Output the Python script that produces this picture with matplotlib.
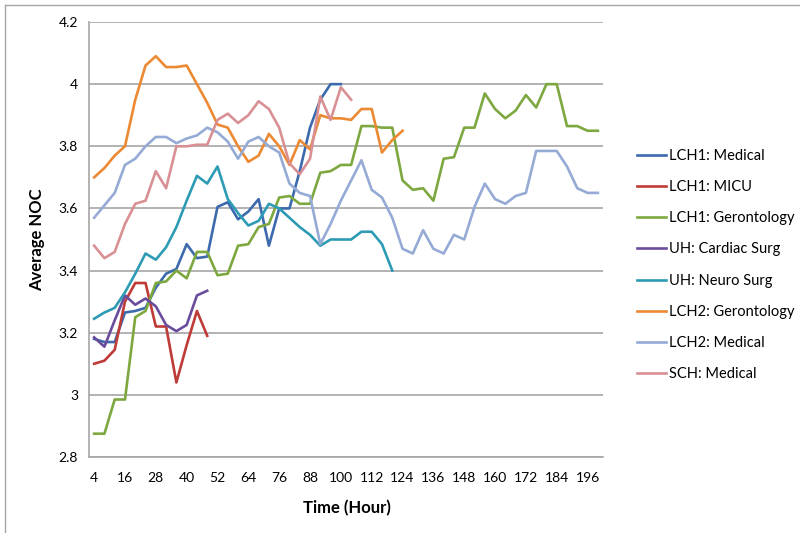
import matplotlib
matplotlib.use("Agg")
import matplotlib.pyplot as plt
from matplotlib.lines import Line2D

plt.rcParams['font.family'] = ['Lato', 'DejaVu Sans']

# sampling hours (every 4 h)
hours = list(range(4, 201, 4))

lch1_medical = [3.18, 3.17, 3.17, 3.265, 3.27, 3.28, 3.345, 3.39, 3.405, 3.485,
                3.44, 3.445, 3.605, 3.62, 3.565, 3.59, 3.63, 3.48, 3.60, 3.60,
                3.72, 3.86, 3.95, 4.0, 4.0]
lch1_micu = [3.10, 3.11, 3.145, 3.30, 3.36, 3.36, 3.22, 3.22, 3.04, 3.16, 3.27, 3.19]
lch1_geront = [2.875, 2.875, 2.985, 2.985, 3.25, 3.27, 3.36, 3.365, 3.40, 3.375,
               3.46, 3.46, 3.385, 3.39, 3.48, 3.485, 3.54, 3.55, 3.635, 3.64,
               3.615, 3.615, 3.715, 3.72, 3.74, 3.74, 3.865, 3.865, 3.86, 3.86,
               3.69, 3.66, 3.665, 3.625, 3.76, 3.765, 3.86, 3.86, 3.97, 3.92,
               3.89, 3.915, 3.965, 3.925, 4.0, 4.0, 3.865, 3.865, 3.85, 3.85]
uh_cardiac = [3.185, 3.155, 3.24, 3.32, 3.29, 3.31, 3.285, 3.225, 3.205, 3.225, 3.32, 3.335]
uh_neuro = [3.245, 3.265, 3.28, 3.33, 3.39, 3.455, 3.435, 3.475, 3.54, 3.625,
            3.705, 3.68, 3.735, 3.63, 3.585, 3.545, 3.56, 3.615, 3.60, 3.57,
            3.54, 3.515, 3.48, 3.50, 3.50, 3.50, 3.525, 3.525, 3.485, 3.40]
lch2_geront = [3.70, 3.73, 3.77, 3.80, 3.95, 4.06, 4.09, 4.055, 4.055, 4.06,
               4.00, 3.94, 3.87, 3.86, 3.80, 3.75, 3.77, 3.84, 3.80, 3.74,
               3.82, 3.79, 3.90, 3.89, 3.89, 3.885, 3.92, 3.92, 3.78, 3.82, 3.85]
lch2_medical = [3.57, 3.61, 3.65, 3.74, 3.76, 3.80, 3.83, 3.83, 3.81, 3.825,
                3.835, 3.86, 3.845, 3.815, 3.76, 3.815, 3.83, 3.80, 3.78, 3.68,
                3.65, 3.64, 3.485, 3.55, 3.625, 3.69, 3.755, 3.66, 3.635, 3.57,
                3.47, 3.455, 3.53, 3.47, 3.455, 3.515, 3.50, 3.605, 3.68, 3.63,
                3.615, 3.64, 3.65, 3.785, 3.785, 3.785, 3.735, 3.665, 3.65, 3.65]
sch_medical = [3.48, 3.44, 3.46, 3.55, 3.615, 3.625, 3.72, 3.665, 3.80, 3.80,
               3.805, 3.805, 3.885, 3.905, 3.875, 3.90, 3.945, 3.92, 3.86, 3.745,
               3.71, 3.76, 3.96, 3.885, 3.99, 3.95]

series = [
    ("LCH1: Medical", lch1_medical, "#3D6AAD"),
    ("LCH1: MICU", lch1_micu, "#BE3B37"),
    ("LCH1: Gerontology", lch1_geront, "#7DA83F"),
    ("UH: Cardiac Surg", uh_cardiac, "#6A4C9C"),
    ("UH: Neuro Surg", uh_neuro, "#2E9BB5"),
    ("LCH2: Gerontology", lch2_geront, "#EC8A34"),
    ("LCH2: Medical", lch2_medical, "#95AAD4"),
    ("SCH: Medical", sch_medical, "#D99094"),
]

y_ticks = [2.8, 3.0, 3.2, 3.4, 3.6, 3.8, 4.0, 4.2]
y_labels = ["2.8", "3", "3.2", "3.4", "3.6", "3.8", "4", "4.2"]
x_ticks = list(range(4, 197, 12))

fig = plt.figure(figsize=(8, 5.33), dpi=100)
ax = fig.add_axes([89 / 800, 1 - 457 / 533, (603 - 89) / 800, (457 - 22) / 533])

for name, vals, col in series:
    ax.plot(hours[:len(vals)], vals, color=col, lw=1.9, label=name)

ax.set_xlim(2, 202)
ax.set_ylim(2.8, 4.2)
ax.set_yticks(y_ticks)
ax.set_yticklabels(y_labels)
ax.set_xticks(x_ticks)
ax.set_xticklabels([str(t) for t in x_ticks])
ax.tick_params(axis='both', length=0, labelsize=10, colors='#000000')
ax.tick_params(axis='y', pad=8)
ax.tick_params(axis='x', pad=11)
ax.yaxis.grid(True, color='#A6A6A6', lw=1.2)
ax.set_axisbelow(True)
for s in ['top', 'right']:
    ax.spines[s].set_visible(False)
for s in ['left', 'bottom']:
    ax.spines[s].set_color('#A6A6A6')
    ax.spines[s].set_linewidth(1.2)

fig.text(347 / 800, 1 - 508 / 533, "Time (Hour)", ha='center', va='center',
         fontsize=12, fontweight='bold')
fig.text(37 / 800, 1 - 240 / 533, "Average NOC", ha='center', va='center',
         rotation=90, fontsize=12, fontweight='bold')

leg = fig.legend(loc='center left', bbox_to_anchor=(630 / 800, 1 - 265 / 533),
                 frameon=False, fontsize=10.5, handlelength=2.0,
                 handletextpad=0.15, labelspacing=1.18, borderpad=0)

# chart border
fig.add_artist(Line2D([5 / 800, 5 / 800], [0, 1 - 5 / 533], color='#A6A6A6', lw=1))
fig.add_artist(Line2D([5 / 800, 1], [1 - 5 / 533, 1 - 5 / 533], color='#A6A6A6', lw=1))

fig.savefig("out.png", dpi=100)
